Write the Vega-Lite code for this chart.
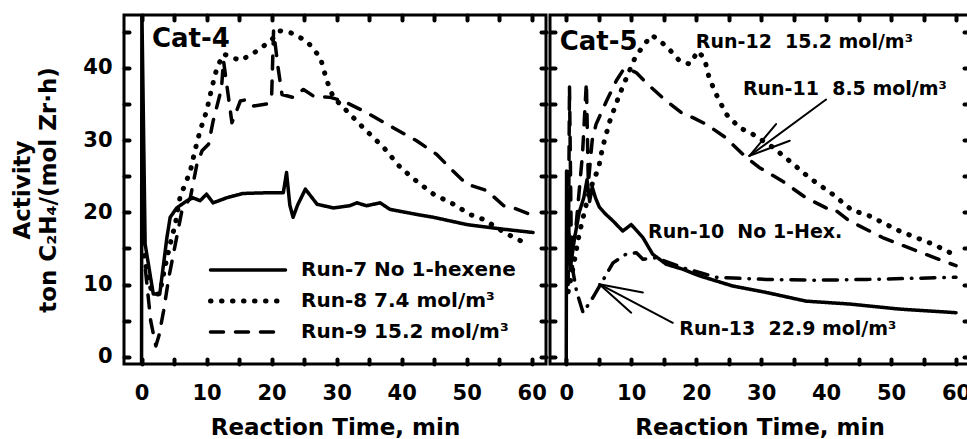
{
  "$schema": "https://vega.github.io/schema/vega-lite/v6.json",
  "padding": {"left": 10, "top": 11, "right": 0, "bottom": 0},
  "background": "white",
  "spacing": -6,
  "config": {
    "font": "DejaVu Sans",
    "view": {"stroke": "black", "strokeWidth": 3},
    "axis": {
      "grid": false, "domain": false,
      "labelFont": "DejaVu Sans", "labelFontWeight": "bold", "labelFontSize": 21, "labelColor": "black",
      "titleFont": "DejaVu Sans", "titleFontWeight": "bold", "titleFontSize": 23, "titleColor": "black",
      "tickColor": "black", "tickWidth": 4, "tickSize": -5, "tickCap": "round"
    },
    "text": {"font": "DejaVu Sans", "fontWeight": "bold", "color": "black"}
  },
  "resolve": {"scale": {"strokeDash": "independent", "strokeWidth": "independent"}, "legend": {"strokeDash": "independent", "strokeWidth": "independent"}},
  "datasets": {
    "cat4": [
      {"run": "Run-7 No 1-hexene", "t": 0, "v": -1},
      {"run": "Run-7 No 1-hexene", "t": 0.05, "v": 48},
      {"run": "Run-7 No 1-hexene", "t": 0.55, "v": 15.6},
      {"run": "Run-7 No 1-hexene", "t": 1.8, "v": 8.7},
      {"run": "Run-7 No 1-hexene", "t": 2.8, "v": 8.7},
      {"run": "Run-7 No 1-hexene", "t": 3.9, "v": 16.5},
      {"run": "Run-7 No 1-hexene", "t": 4.4, "v": 19.3},
      {"run": "Run-7 No 1-hexene", "t": 5.4, "v": 20.6},
      {"run": "Run-7 No 1-hexene", "t": 7, "v": 21.6},
      {"run": "Run-7 No 1-hexene", "t": 7.9, "v": 22},
      {"run": "Run-7 No 1-hexene", "t": 9, "v": 21.6},
      {"run": "Run-7 No 1-hexene", "t": 10, "v": 22.5},
      {"run": "Run-7 No 1-hexene", "t": 11, "v": 21.3},
      {"run": "Run-7 No 1-hexene", "t": 13.1, "v": 22},
      {"run": "Run-7 No 1-hexene", "t": 15.6, "v": 22.6},
      {"run": "Run-7 No 1-hexene", "t": 19.3, "v": 22.7},
      {"run": "Run-7 No 1-hexene", "t": 21.8, "v": 22.7},
      {"run": "Run-7 No 1-hexene", "t": 22.3, "v": 25.5},
      {"run": "Run-7 No 1-hexene", "t": 22.8, "v": 21},
      {"run": "Run-7 No 1-hexene", "t": 23.3, "v": 19.3},
      {"run": "Run-7 No 1-hexene", "t": 24, "v": 21},
      {"run": "Run-7 No 1-hexene", "t": 25.2, "v": 23.2},
      {"run": "Run-7 No 1-hexene", "t": 27, "v": 21.1},
      {"run": "Run-7 No 1-hexene", "t": 29.5, "v": 20.6},
      {"run": "Run-7 No 1-hexene", "t": 32, "v": 20.9},
      {"run": "Run-7 No 1-hexene", "t": 33.1, "v": 21.3},
      {"run": "Run-7 No 1-hexene", "t": 34.6, "v": 20.9},
      {"run": "Run-7 No 1-hexene", "t": 36.7, "v": 21.3},
      {"run": "Run-7 No 1-hexene", "t": 38.2, "v": 20.4},
      {"run": "Run-7 No 1-hexene", "t": 42.3, "v": 19.7},
      {"run": "Run-7 No 1-hexene", "t": 44.9, "v": 19.3},
      {"run": "Run-7 No 1-hexene", "t": 50, "v": 18.3},
      {"run": "Run-7 No 1-hexene", "t": 55.2, "v": 17.7},
      {"run": "Run-7 No 1-hexene", "t": 60.2, "v": 17.2},
      {"run": "Run-8 7.4 mol/m³", "t": 0.4, "v": 14},
      {"run": "Run-8 7.4 mol/m³", "t": 1.2, "v": 10},
      {"run": "Run-8 7.4 mol/m³", "t": 1.8, "v": 8.7},
      {"run": "Run-8 7.4 mol/m³", "t": 2.8, "v": 8.7},
      {"run": "Run-8 7.4 mol/m³", "t": 3.5, "v": 12},
      {"run": "Run-8 7.4 mol/m³", "t": 4.4, "v": 15.6},
      {"run": "Run-8 7.4 mol/m³", "t": 5.2, "v": 18.4},
      {"run": "Run-8 7.4 mol/m³", "t": 5.9, "v": 22},
      {"run": "Run-8 7.4 mol/m³", "t": 6.7, "v": 23.9},
      {"run": "Run-8 7.4 mol/m³", "t": 7.5, "v": 25.7},
      {"run": "Run-8 7.4 mol/m³", "t": 8.2, "v": 28.5},
      {"run": "Run-8 7.4 mol/m³", "t": 9, "v": 31.3},
      {"run": "Run-8 7.4 mol/m³", "t": 10, "v": 34},
      {"run": "Run-8 7.4 mol/m³", "t": 10.8, "v": 37.2},
      {"run": "Run-8 7.4 mol/m³", "t": 11.6, "v": 40},
      {"run": "Run-8 7.4 mol/m³", "t": 12.6, "v": 41.9},
      {"run": "Run-8 7.4 mol/m³", "t": 15.2, "v": 41},
      {"run": "Run-8 7.4 mol/m³", "t": 17.7, "v": 42.3},
      {"run": "Run-8 7.4 mol/m³", "t": 19.8, "v": 43.7},
      {"run": "Run-8 7.4 mol/m³", "t": 21.3, "v": 45.1},
      {"run": "Run-8 7.4 mol/m³", "t": 22.8, "v": 44.9},
      {"run": "Run-8 7.4 mol/m³", "t": 25.4, "v": 43.7},
      {"run": "Run-8 7.4 mol/m³", "t": 27.5, "v": 41.4},
      {"run": "Run-8 7.4 mol/m³", "t": 28.5, "v": 38.2},
      {"run": "Run-8 7.4 mol/m³", "t": 29.5, "v": 35.9},
      {"run": "Run-8 7.4 mol/m³", "t": 31.6, "v": 34},
      {"run": "Run-8 7.4 mol/m³", "t": 34.1, "v": 31.7},
      {"run": "Run-8 7.4 mol/m³", "t": 37.2, "v": 29},
      {"run": "Run-8 7.4 mol/m³", "t": 39.8, "v": 26.2},
      {"run": "Run-8 7.4 mol/m³", "t": 42.3, "v": 24.3},
      {"run": "Run-8 7.4 mol/m³", "t": 44.9, "v": 22.5},
      {"run": "Run-8 7.4 mol/m³", "t": 48, "v": 21.1},
      {"run": "Run-8 7.4 mol/m³", "t": 50.5, "v": 19.7},
      {"run": "Run-8 7.4 mol/m³", "t": 52.6, "v": 19},
      {"run": "Run-8 7.4 mol/m³", "t": 56.2, "v": 17},
      {"run": "Run-8 7.4 mol/m³", "t": 59.3, "v": 15.6},
      {"run": "Run-9 15.2 mol/m³", "t": 0.6, "v": 12},
      {"run": "Run-9 15.2 mol/m³", "t": 1.4, "v": 5},
      {"run": "Run-9 15.2 mol/m³", "t": 2.2, "v": 1.5},
      {"run": "Run-9 15.2 mol/m³", "t": 2.7, "v": 3},
      {"run": "Run-9 15.2 mol/m³", "t": 3.4, "v": 6.4},
      {"run": "Run-9 15.2 mol/m³", "t": 4.2, "v": 11},
      {"run": "Run-9 15.2 mol/m³", "t": 5.2, "v": 15.6},
      {"run": "Run-9 15.2 mol/m³", "t": 6.2, "v": 20.2},
      {"run": "Run-9 15.2 mol/m³", "t": 7.5, "v": 22},
      {"run": "Run-9 15.2 mol/m³", "t": 8.5, "v": 26.6},
      {"run": "Run-9 15.2 mol/m³", "t": 9.3, "v": 28.5},
      {"run": "Run-9 15.2 mol/m³", "t": 10.3, "v": 29.4},
      {"run": "Run-9 15.2 mol/m³", "t": 11, "v": 32.6},
      {"run": "Run-9 15.2 mol/m³", "t": 11.8, "v": 35.4},
      {"run": "Run-9 15.2 mol/m³", "t": 12.3, "v": 37.2},
      {"run": "Run-9 15.2 mol/m³", "t": 12.6, "v": 41},
      {"run": "Run-9 15.2 mol/m³", "t": 13.9, "v": 32.4},
      {"run": "Run-9 15.2 mol/m³", "t": 15.2, "v": 35.4},
      {"run": "Run-9 15.2 mol/m³", "t": 16.2, "v": 35.6},
      {"run": "Run-9 15.2 mol/m³", "t": 17.2, "v": 34.7},
      {"run": "Run-9 15.2 mol/m³", "t": 19.3, "v": 35},
      {"run": "Run-9 15.2 mol/m³", "t": 20, "v": 35.9},
      {"run": "Run-9 15.2 mol/m³", "t": 20.3, "v": 45.1},
      {"run": "Run-9 15.2 mol/m³", "t": 21, "v": 40},
      {"run": "Run-9 15.2 mol/m³", "t": 21.6, "v": 36.3},
      {"run": "Run-9 15.2 mol/m³", "t": 23.3, "v": 35.9},
      {"run": "Run-9 15.2 mol/m³", "t": 24.9, "v": 37},
      {"run": "Run-9 15.2 mol/m³", "t": 26.4, "v": 36.1},
      {"run": "Run-9 15.2 mol/m³", "t": 29, "v": 35.9},
      {"run": "Run-9 15.2 mol/m³", "t": 31, "v": 35.4},
      {"run": "Run-9 15.2 mol/m³", "t": 34.6, "v": 33.8},
      {"run": "Run-9 15.2 mol/m³", "t": 38.7, "v": 31.7},
      {"run": "Run-9 15.2 mol/m³", "t": 42.3, "v": 29.9},
      {"run": "Run-9 15.2 mol/m³", "t": 45.4, "v": 28},
      {"run": "Run-9 15.2 mol/m³", "t": 47.9, "v": 25.7},
      {"run": "Run-9 15.2 mol/m³", "t": 50, "v": 23.9},
      {"run": "Run-9 15.2 mol/m³", "t": 53.1, "v": 23},
      {"run": "Run-9 15.2 mol/m³", "t": 55.7, "v": 20.9},
      {"run": "Run-9 15.2 mol/m³", "t": 57.2, "v": 20.6},
      {"run": "Run-9 15.2 mol/m³", "t": 59.8, "v": 19.7}
    ],
    "cat5": [
      {"run": "Run-10", "t": 0, "v": -1},
      {"run": "Run-10", "t": 0.05, "v": 25.7},
      {"run": "Run-10", "t": 0.6, "v": 12},
      {"run": "Run-10", "t": 1.2, "v": 16},
      {"run": "Run-10", "t": 2, "v": 20},
      {"run": "Run-10", "t": 2.7, "v": 22},
      {"run": "Run-10", "t": 3.2, "v": 24.5},
      {"run": "Run-10", "t": 3.6, "v": 21.5},
      {"run": "Run-10", "t": 4, "v": 23.5},
      {"run": "Run-10", "t": 4.5, "v": 22},
      {"run": "Run-10", "t": 5.1, "v": 20.7},
      {"run": "Run-10", "t": 6, "v": 19.8},
      {"run": "Run-10", "t": 7.2, "v": 18.8},
      {"run": "Run-10", "t": 8.7, "v": 17.4},
      {"run": "Run-10", "t": 10, "v": 18.3},
      {"run": "Run-10", "t": 11.8, "v": 16.5},
      {"run": "Run-10", "t": 13.3, "v": 14.2},
      {"run": "Run-10", "t": 15.4, "v": 12.8},
      {"run": "Run-10", "t": 18, "v": 12.1},
      {"run": "Run-10", "t": 20.5, "v": 11.2},
      {"run": "Run-10", "t": 25.6, "v": 9.8},
      {"run": "Run-10", "t": 30.8, "v": 8.9},
      {"run": "Run-10", "t": 36.9, "v": 7.7},
      {"run": "Run-10", "t": 43.6, "v": 7.3},
      {"run": "Run-10", "t": 51.3, "v": 6.6},
      {"run": "Run-10", "t": 60, "v": 6.1},
      {"run": "Run-11", "t": 0.3, "v": 10},
      {"run": "Run-11", "t": 0.5, "v": 37.5},
      {"run": "Run-11", "t": 0.8, "v": 14},
      {"run": "Run-11", "t": 1.5, "v": 18},
      {"run": "Run-11", "t": 2.5, "v": 28},
      {"run": "Run-11", "t": 3.1, "v": 38},
      {"run": "Run-11", "t": 3.4, "v": 24},
      {"run": "Run-11", "t": 4, "v": 30},
      {"run": "Run-11", "t": 4.6, "v": 32.2},
      {"run": "Run-11", "t": 6.2, "v": 35.4},
      {"run": "Run-11", "t": 7.7, "v": 38.2},
      {"run": "Run-11", "t": 8.7, "v": 39.6},
      {"run": "Run-11", "t": 9.7, "v": 39.8},
      {"run": "Run-11", "t": 10.8, "v": 39.3},
      {"run": "Run-11", "t": 12.8, "v": 37.5},
      {"run": "Run-11", "t": 15.4, "v": 35.4},
      {"run": "Run-11", "t": 18, "v": 33.6},
      {"run": "Run-11", "t": 19.5, "v": 33.1},
      {"run": "Run-11", "t": 21.5, "v": 32.2},
      {"run": "Run-11", "t": 24.6, "v": 30.3},
      {"run": "Run-11", "t": 25.6, "v": 29.4},
      {"run": "Run-11", "t": 27.7, "v": 27.6},
      {"run": "Run-11", "t": 29.7, "v": 26.2},
      {"run": "Run-11", "t": 33.3, "v": 24.3},
      {"run": "Run-11", "t": 36.9, "v": 22},
      {"run": "Run-11", "t": 40, "v": 20.6},
      {"run": "Run-11", "t": 41, "v": 20.6},
      {"run": "Run-11", "t": 43.6, "v": 18.8},
      {"run": "Run-11", "t": 48.7, "v": 16.5},
      {"run": "Run-11", "t": 53.8, "v": 14.7},
      {"run": "Run-11", "t": 60, "v": 12.6},
      {"run": "Run-12", "t": 0.3, "v": 9},
      {"run": "Run-12", "t": 1.2, "v": 13},
      {"run": "Run-12", "t": 2, "v": 17},
      {"run": "Run-12", "t": 2.6, "v": 19.3},
      {"run": "Run-12", "t": 3.6, "v": 23},
      {"run": "Run-12", "t": 5, "v": 26.2},
      {"run": "Run-12", "t": 5.6, "v": 29},
      {"run": "Run-12", "t": 6.7, "v": 32.6},
      {"run": "Run-12", "t": 8.2, "v": 36.3},
      {"run": "Run-12", "t": 9.5, "v": 39.1},
      {"run": "Run-12", "t": 10.5, "v": 41.2},
      {"run": "Run-12", "t": 11.8, "v": 43},
      {"run": "Run-12", "t": 13.2, "v": 44.5},
      {"run": "Run-12", "t": 15.4, "v": 43},
      {"run": "Run-12", "t": 17.4, "v": 41},
      {"run": "Run-12", "t": 19, "v": 40.5},
      {"run": "Run-12", "t": 20.3, "v": 42.3},
      {"run": "Run-12", "t": 21.3, "v": 41.2},
      {"run": "Run-12", "t": 22, "v": 38.6},
      {"run": "Run-12", "t": 23.1, "v": 36.3},
      {"run": "Run-12", "t": 24.6, "v": 33.6},
      {"run": "Run-12", "t": 26.7, "v": 31.7},
      {"run": "Run-12", "t": 28.7, "v": 30.8},
      {"run": "Run-12", "t": 31.8, "v": 29},
      {"run": "Run-12", "t": 34.9, "v": 26.7},
      {"run": "Run-12", "t": 37.4, "v": 24.8},
      {"run": "Run-12", "t": 41, "v": 22.5},
      {"run": "Run-12", "t": 44.1, "v": 20.2},
      {"run": "Run-12", "t": 46.2, "v": 19.7},
      {"run": "Run-12", "t": 51.3, "v": 17.4},
      {"run": "Run-12", "t": 56.4, "v": 15.6},
      {"run": "Run-12", "t": 60, "v": 14},
      {"run": "Run-13", "t": 0.4, "v": 17},
      {"run": "Run-13", "t": 1, "v": 12},
      {"run": "Run-13", "t": 1.6, "v": 9},
      {"run": "Run-13", "t": 2.6, "v": 6.1},
      {"run": "Run-13", "t": 4.1, "v": 8.2},
      {"run": "Run-13", "t": 5.6, "v": 10.5},
      {"run": "Run-13", "t": 7.2, "v": 13},
      {"run": "Run-13", "t": 9.2, "v": 14.2},
      {"run": "Run-13", "t": 10.8, "v": 14.4},
      {"run": "Run-13", "t": 11.8, "v": 13.5},
      {"run": "Run-13", "t": 13.8, "v": 13.7},
      {"run": "Run-13", "t": 18, "v": 12.3},
      {"run": "Run-13", "t": 23.1, "v": 11},
      {"run": "Run-13", "t": 30.8, "v": 10.7},
      {"run": "Run-13", "t": 38.5, "v": 10.6},
      {"run": "Run-13", "t": 46.2, "v": 10.7},
      {"run": "Run-13", "t": 60, "v": 11}
    ],
    "labels4": [
      {"label": "Cat-4", "t": 1.6, "v": 44, "size": 26}
    ],
    "labels5": [
      {"label": "Cat-5", "t": -1, "v": 43.5, "size": 26},
      {"label": "Run-12 \u00a015.2 mol/m³", "t": 19.95, "v": 43.6, "size": 19},
      {"label": "Run-11 \u00a08.5 mol/m³", "t": 27.2, "v": 37.1, "size": 19},
      {"label": "Run-10 \u00a0No 1-Hex.", "t": 12.6, "v": 17.2, "size": 19},
      {"label": "Run-13 \u00a022.9 mol/m³", "t": 17.4, "v": 3.9, "size": 19}
    ],
    "arrows5": [
      {"t": 40, "v": 35.6, "t2": 28.2, "v2": 27.8},
      {"t": 28.2, "v": 27.8, "t2": 32.3, "v2": 32.2},
      {"t": 28.2, "v": 27.8, "t2": 34.4, "v2": 29.9},
      {"t": 16.4, "v": 4.7, "t2": 5.1, "v2": 10.05},
      {"t": 5.1, "v": 10.05, "t2": 11.8, "v2": 8.9},
      {"t": 5.1, "v": 10.05, "t2": 10, "v2": 6.1}
    ]
  },
  "hconcat": [
    {
      "width": 422,
      "height": 349,
      "layer": [
        {
          "data": {"name": "cat4"},
          "mark": {"type": "line", "clip": true, "strokeCap": "round", "strokeJoin": "round", "color": "black"},
          "encoding": {
            "x": {"field": "t", "type": "quantitative", "scale": {"domain": [-2.7, 62.2], "nice": false, "zero": false},
              "axis": {"orient": "bottom", "values": [0, 5, 10, 15, 20, 25, 30, 35, 40, 45, 50, 55, 60], "labelExpr": "datum.value % 10 === 0 ? datum.label : ''", "title": "Reaction Time, min", "labelPadding": 23, "titlePadding": 13, "labelFlush": false}},
            "y": {"field": "v", "type": "quantitative", "scale": {"domain": [-1, 47.3], "nice": false, "zero": false},
              "axis": {"orient": "left", "values": [0, 5, 10, 15, 20, 25, 30, 35, 40, 45], "labelExpr": "datum.value % 10 === 0 ? datum.label : ''", "title": ["Activity", "ton C₂H₄/(mol Zr·h)"], "labelPadding": 17, "titlePadding": 22, "titleLineHeight": 26}},
            "strokeWidth": {"field": "run", "type": "nominal",
              "scale": {"type": "ordinal", "domain": ["Run-7 No 1-hexene", "Run-8 7.4 mol/m³", "Run-9 15.2 mol/m³"], "range": [3.5, 5, 3.5]},
              "legend": null},
            "strokeDash": {"field": "run", "type": "nominal",
              "scale": {"domain": ["Run-7 No 1-hexene", "Run-8 7.4 mol/m³", "Run-9 15.2 mol/m³"], "range": [[1, 0], [0.5, 10.5], [13, 12]]},
              "legend": {"orient": "none", "legendX": 84, "legendY": 245, "title": null, "symbolType": "M-1,0H9", "symbolSize": 225, "symbolStrokeWidth": 3.5, "symbolStrokeColor": "black", "symbolFillColor": "transparent", "labelFont": "DejaVu Sans", "labelFontWeight": "bold", "labelFontSize": 20, "labelColor": "black", "labelOffset": 73, "padding": 0, "rowPadding": 11, "labelLimit": 400,
                "encode": {"symbols": {"update": {"strokeCap": {"value": "round"}, "strokeWidth": {"signal": "datum.value === 'Run-8 7.4 mol/m³' ? 5 : 3.5"}}}}}}
          }
        },
        {
          "data": {"name": "labels4"},
          "mark": {"type": "text", "align": "left", "baseline": "middle", "fontSize": 26},
          "encoding": {
            "x": {"field": "t", "type": "quantitative", "axis": {"orient": "top", "values": [0, 5, 10, 15, 20, 25, 30, 35, 40, 45, 50, 55, 60], "labels": false, "title": null}},
            "y": {"field": "v", "type": "quantitative", "axis": {"orient": "right", "values": [0, 5, 10, 15, 20, 25, 30, 35, 40, 45], "labels": false, "title": null}},
            "text": {"field": "label"}
          }
        }
      ]
    },
    {
      "width": 419,
      "height": 349,
      "layer": [
        {
          "data": {"name": "cat5"},
          "mark": {"type": "line", "clip": true, "strokeCap": "round", "strokeJoin": "round", "color": "black"},
          "encoding": {
            "x": {"field": "t", "type": "quantitative", "scale": {"domain": [-2.5, 62], "nice": false, "zero": false},
              "axis": {"orient": "bottom", "values": [0, 5, 10, 15, 20, 25, 30, 35, 40, 45, 50, 55, 60], "labelExpr": "datum.value % 10 === 0 ? datum.label : ''", "title": "Reaction Time, min", "labelPadding": 23, "titlePadding": 13, "labelFlush": false}},
            "y": {"field": "v", "type": "quantitative", "scale": {"domain": [-1, 47.3], "nice": false, "zero": false},
              "axis": {"orient": "left", "values": [0, 5, 10, 15, 20, 25, 30, 35, 40, 45], "labels": false, "title": null}},
            "strokeWidth": {"field": "run", "type": "nominal",
              "scale": {"type": "ordinal", "domain": ["Run-10", "Run-11", "Run-12", "Run-13"], "range": [3.5, 3.5, 5, 3.5]},
              "legend": null},
            "strokeDash": {"field": "run", "type": "nominal",
              "scale": {"domain": ["Run-10", "Run-11", "Run-12", "Run-13"], "range": [[1, 0], [13, 12], [0.5, 10.5], [14, 9, 0.5, 9]]},
              "legend": null}
          }
        },
        {
          "data": {"name": "labels5"},
          "mark": {"type": "text", "align": "left", "baseline": "middle"},
          "encoding": {
            "x": {"field": "t", "type": "quantitative", "axis": {"orient": "top", "values": [0, 5, 10, 15, 20, 25, 30, 35, 40, 45, 50, 55, 60], "labels": false, "title": null}},
            "y": {"field": "v", "type": "quantitative", "axis": {"orient": "right", "values": [0, 5, 10, 15, 20, 25, 30, 35, 40, 45], "labels": false, "title": null}},
            "text": {"field": "label"},
            "size": {"field": "size", "type": "quantitative", "scale": null}
          }
        },
        {
          "data": {"name": "arrows5"},
          "mark": {"type": "rule", "strokeWidth": 2, "color": "black", "strokeCap": "round"},
          "encoding": {
            "x": {"field": "t", "type": "quantitative", "axis": null},
            "y": {"field": "v", "type": "quantitative", "axis": null},
            "x2": {"field": "t2"},
            "y2": {"field": "v2"}
          }
        }
      ]
    }
  ]
}
